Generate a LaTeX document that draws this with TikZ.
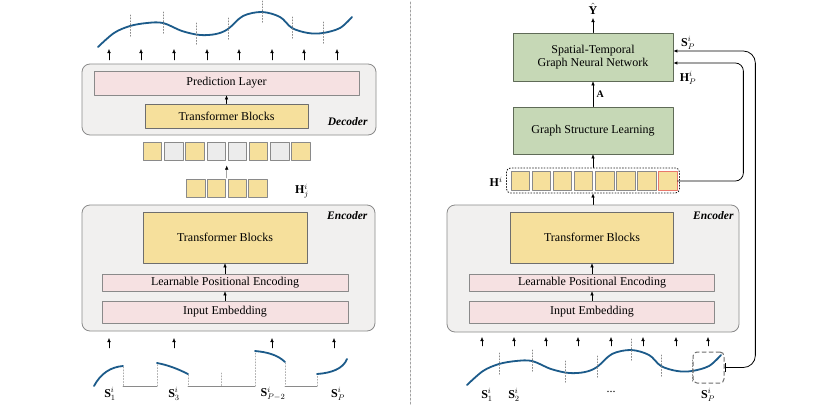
\documentclass[tikz,border=0pt]{standalone}
\usepackage{fontspec}
\setmainfont{Liberation Serif}
\usetikzlibrary{arrows.meta,calc,positioning}
\definecolor{maePanel}{HTML}{F1F0EF}
\definecolor{maeLine}{HTML}{8A8A8A}
\definecolor{maePink}{HTML}{F6E1E2}
\definecolor{maeYel}{HTML}{F6E09C}
\definecolor{maeTok}{HTML}{ECECEC}
\definecolor{maeGrn}{HTML}{C6D8B6}
\definecolor{maeGrnLine}{HTML}{5F6B57}
\definecolor{maeRed}{HTML}{E8786B}
\definecolor{maeWave}{HTML}{1C5B8A}
\definecolor{maeInk}{HTML}{1A1A1A}
\newcommand\maeWave{plot[smooth,tension=0.55] coordinates {(98,47) (114,33) (130,26) (147,23) (163,23) (182,31) (200,35) (216,34) (228,29) (243,16) (262,12) (280,17) (292,28) (308,33) (323,33) (340,28) (352,17)}}

\begin{document}
\begin{tikzpicture}[x=1pt,y=-1pt,>={Latex[length=4pt,width=3.4pt]},line cap=round,line join=round,font=\fontsize{12}{13.5}\selectfont]
\useasboundingbox[fill=white] (0,0) rectangle (818,407);
\tikzset{panel/.style={draw=maeLine,fill=maePanel,rounded corners=8pt,line width=0.8pt},pinkbox/.style={draw=maeLine,fill=maePink,line width=0.7pt,inner sep=0pt},yelbox/.style={draw=maeLine!80!black,fill=maeYel,line width=0.7pt,inner sep=0pt},grnbox/.style={draw=maeGrnLine,fill=maeGrn,line width=0.7pt,inner sep=0pt},tok/.style={draw=maeLine,line width=0.6pt,minimum size=18.5pt,inner sep=0pt},wave/.style={draw=maeWave,line width=1.8pt},cut/.style={draw=maeLine,dotted,line width=0.9pt},tag/.style={font=\bfseries\itshape\fontsize{11.5}{13}\selectfont,anchor=east}}
% left: masked pre-training
\draw[draw=maeLine!80,dashed,dash pattern=on 2pt off 2pt,line width=1pt] (410,2) -- (410,405);
\draw[wave] \maeWave; \foreach \x/\y in {130/26,163/23,196/34,228/29,262/12,292/28,323/33} \draw[cut] (\x,\y-11) -- (\x,\y+11);
\foreach \x in {109,141,174,207,239,272,304,337} \draw[->] (\x,60) -- (\x,49);
\node[panel,minimum width=294,minimum height=71] (dec) at (229,99.5) {};
\node[pinkbox,minimum width=265,minimum height=24] (pred) at (226.5,83) {Prediction Layer};
\node[yelbox,minimum width=163,minimum height=24] (dtf) at (226.5,116) {Transformer Blocks};
\draw[->] (dtf) -- (pred); \node[tag] at (371,122) {Decoder};
\foreach \c [count=\k] in {maeYel,maeTok,maeYel,maeTok,maeTok,maeYel,maeTok,maeYel} \node[tok,fill=\c] (m\k) at ({131.3+21.2*\k},151.5) {};
\foreach \k in {1,...,4} \node[tok,fill=maeYel] (v\k) at ({175+20.7*\k},188.5) {};
\draw[->,shorten <=1pt,shorten >=4.5pt] ($(v2.north)!0.5!(v3.north)$) -- ($(m4.south)!0.5!(m5.south)$);
\node (hj) at (302,191) {$\mathbf{H}^{i}_{j}$};
\node[panel,minimum width=293,minimum height=126] (enc) at (228.5,268) {};
\node[yelbox,minimum width=164,minimum height=51] (etf) at (225,237.5) {Transformer Blocks};
\node[pinkbox,minimum width=246,minimum height=17] (lpe) at (225,282.5) {Learnable Positional Encoding};
\node[pinkbox,minimum width=246,minimum height=22] (emb) at (225,312) {Input Embedding};
\draw[->] (emb) -- (lpe); \draw[->] (lpe) -- (etf); \node[tag] at (371,216) {Encoder};
\foreach \x in {109,174,272,334} \draw[->] (\x,348) -- (\x,338);
\draw[wave] (94,386) .. controls (101,373) and (111,367) .. (123,366);
\draw[wave] (157,363) .. controls (168,365) and (178,369) .. (188,374);
\draw[wave] (255,351) .. controls (267,352) and (278,355) .. (285,362);
\draw[wave] (317,374) .. controls (331,373) and (343,369) .. (347,359);
\draw[cut,draw=maeLine!70] (123,367) -- (123,386) (157,386) -- (157,364) (188,375) -- (188,386) (221,373) -- (221,386) (255,386) -- (255,352) (285,363) -- (285,386) (317,386) -- (317,375);
\draw[maeLine,line width=0.9pt] (123,386) -- (157,386) (188,386) -- (255,386) (285,386) -- (317,386);
\node at (110,394) {$\mathbf{S}^{i}_{1}$}; \node at (174,394) {$\mathbf{S}^{i}_{3}$};
\node at (273,394) {$\mathbf{S}^{i}_{P-2}$}; \node at (338,394) {$\mathbf{S}^{i}_{P}$};
% right: forecasting with the pre-trained encoder
\node (yhat) at (593,9) {$\hat{\mathbf{Y}}$};
\node[grnbox,minimum width=160,minimum height=48,align=center] (stg) at (593,57) {Spatial-Temporal\\Graph Neural Network};
\node[grnbox,minimum width=160,minimum height=47] (gsl) at (593,130.5) {Graph Structure Learning};
\draw[->] (stg) -- (yhat.south); \draw[->] (gsl) -- node[right,font=\bfseries] {A} (stg);
\node[draw=maeInk,dotted,line width=0.9pt,rounded corners=4pt,minimum width=173,minimum height=25] (hrow) at (593,180.5) {};
\foreach \k in {1,...,7} \node[tok,fill=maeYel] (h\k) at ({499.1+21.1*\k},181) {};
\node[tok,fill=maeYel,draw=maeRed,line width=0.9pt] (h8) at (667.9,181) {};
\node[anchor=east] (hi) at (506,182) {$\mathbf{H}^{i}$};
\draw[->] (hrow) -- (gsl);
\node[panel,minimum width=292,minimum height=127] (enc2) at (593,268.5) {};
\node[yelbox,minimum width=163,minimum height=51] (etf2) at (592,237.5) {Transformer Blocks};
\node[pinkbox,minimum width=245,minimum height=17] (lpe2) at (592,282.5) {Learnable Positional Encoding};
\node[pinkbox,minimum width=245,minimum height=22] (emb2) at (592,312) {Input Embedding};
\draw[->] (emb2) -- (lpe2); \draw[->] (lpe2) -- (etf2); \node[tag] at (737,216) {Encoder};
\draw[->] (enc2) -- (hrow);
\foreach \x in {482,514,546,578,611,643,676,708} \draw[->] (\x,346) -- (\x,337);
\begin{scope}[shift={(369,338)}]
\draw[wave] \maeWave; \foreach \x/\y in {130/26,163/23,196/34,228/29,262/12,292/28,323/33} \draw[cut] (\x,\y-11) -- (\x,\y+11);
\end{scope}
\node[draw=maeLine!80!black,dashed,dash pattern=on 4pt off 3pt,line width=1pt,rounded corners=4pt,minimum width=31,minimum height=31] (pbox) at (708.5,367.5) {};
\node at (487,395) {$\mathbf{S}^{i}_{1}$}; \node at (514,395) {$\mathbf{S}^{i}_{2}$};
\node at (611,392) {...}; \node at (708,395) {$\mathbf{S}^{i}_{P}$};
\draw[->,line width=0.8pt,rounded corners=8pt] (h8.east) -| ([xshift=70pt,yshift=-6pt]stg.east) -- ([yshift=-6pt]stg.east);
\draw[{Bar[width=9pt]}->,line width=0.8pt,rounded corners=12pt] (pbox.east) -| ([xshift=82pt,yshift=6pt]stg.east) -- ([yshift=6pt]stg.east);
\node (sp) at (688,43) {$\mathbf{S}^{i}_{P}$}; \node (hp) at (688,78) {$\mathbf{H}^{i}_{P}$};
\end{tikzpicture}
\end{document}
